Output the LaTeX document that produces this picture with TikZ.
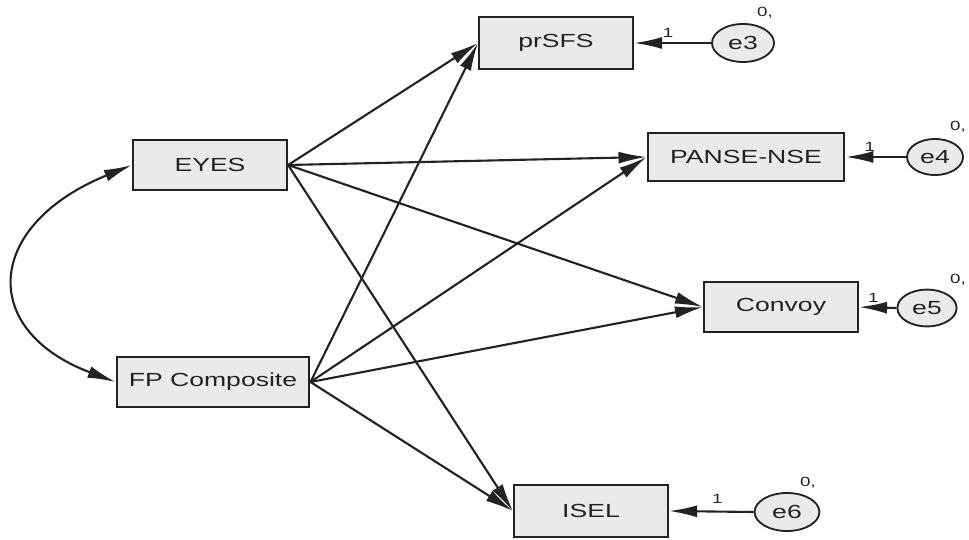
\documentclass[tikz,border=0pt]{standalone}
\usepackage{fontspec}
\setmainfont{Liberation Sans}[FakeStretch=1.4]
\usetikzlibrary{arrows.meta,shapes.geometric}
\definecolor{boxfill}{HTML}{EAEAEA}
\definecolor{ink}{HTML}{222222}
\tikzset{
  obs/.style={draw=ink,line width=1.5pt,fill=boxfill,minimum width=3.85cm,minimum height=1.25cm,font=\fontsize{13.5}{15}\selectfont,text=ink}, % observed variable
  err/.style={ellipse,draw=ink,line width=1.3pt,fill=boxfill,minimum width=1.55cm,minimum height=0.95cm,inner sep=0pt,font=\fontsize{13.5}{15}\selectfont,text=ink}, % residual
  path/.style={-{Latex[length=7mm,width=3mm]},ink,line width=1.5pt},
  cov/.style={{Latex[length=7mm,width=3mm]}-{Latex[length=7mm,width=3mm]},ink,line width=1.5pt},
  lbl/.style={font=\fontsize{9.5}{11}\selectfont,text=ink,inner sep=1pt},
}
\begin{document}
\begin{tikzpicture}[x=0.025cm,y=-0.025cm]
  \useasboundingbox (0,0) rectangle (969,540);
  % exogenous
  \node[obs] (eyes) at (210,165) {EYES};
  \node[obs,minimum width=4.82cm] (fp) at (213,382) {FP Composite};
  % outcomes
  \node[obs,minimum height=1.32cm] (sfs) at (556,43) {prSFS};
  \node[obs,minimum width=4.92cm,minimum height=1.2cm] (panse) at (746,157) {PANSE-NSE};
  \node[obs] (convoy) at (781,307) {Convoy};
  \node[obs,minimum height=1.32cm] (isel) at (591,511) {ISEL};
  % residuals
  \node[err] (e3) at (743,43) {e3};
  \node[err,minimum width=1.4cm,minimum height=0.9cm] (e4) at (935,157) {e4};
  \node[err,minimum width=1.48cm,minimum height=0.92cm] (e5) at (927,308) {e5};
  \node[err,minimum width=1.62cm] (e6) at (787,512) {e6};
  \node[lbl] (v3) at (765,13) {0,};
  \node[lbl] (v4) at (958,127) {0,};
  \node[lbl] (v5) at (958,280) {0,};
  \node[lbl] (v6) at (808,483) {0,};
  % regressions
  \foreach \dv in {sfs,panse,convoy,isel} {
    \draw[path] (eyes.east) -- (\dv.west);
    \draw[path] (fp.east) -- (\dv.west);
  }
  \draw[path] (e3.west) -- node[lbl,pos=0.56,above=2pt] {1} (sfs.east);
  \draw[path] (e4.west) -- node[lbl,pos=0.6,above=2pt] {1} (panse.east);
  \draw[path] (e5.west) -- node[lbl,pos=0.62,above=2pt] {1} (convoy.east);
  \draw[path] (e6.west) -- node[lbl,pos=0.43,above=4pt] {1} (isel.east);
  % covariance
  \draw[cov] (eyes.west) .. controls (-15,225) and (-22,330) .. (fp.west);
\end{tikzpicture}
\end{document}
